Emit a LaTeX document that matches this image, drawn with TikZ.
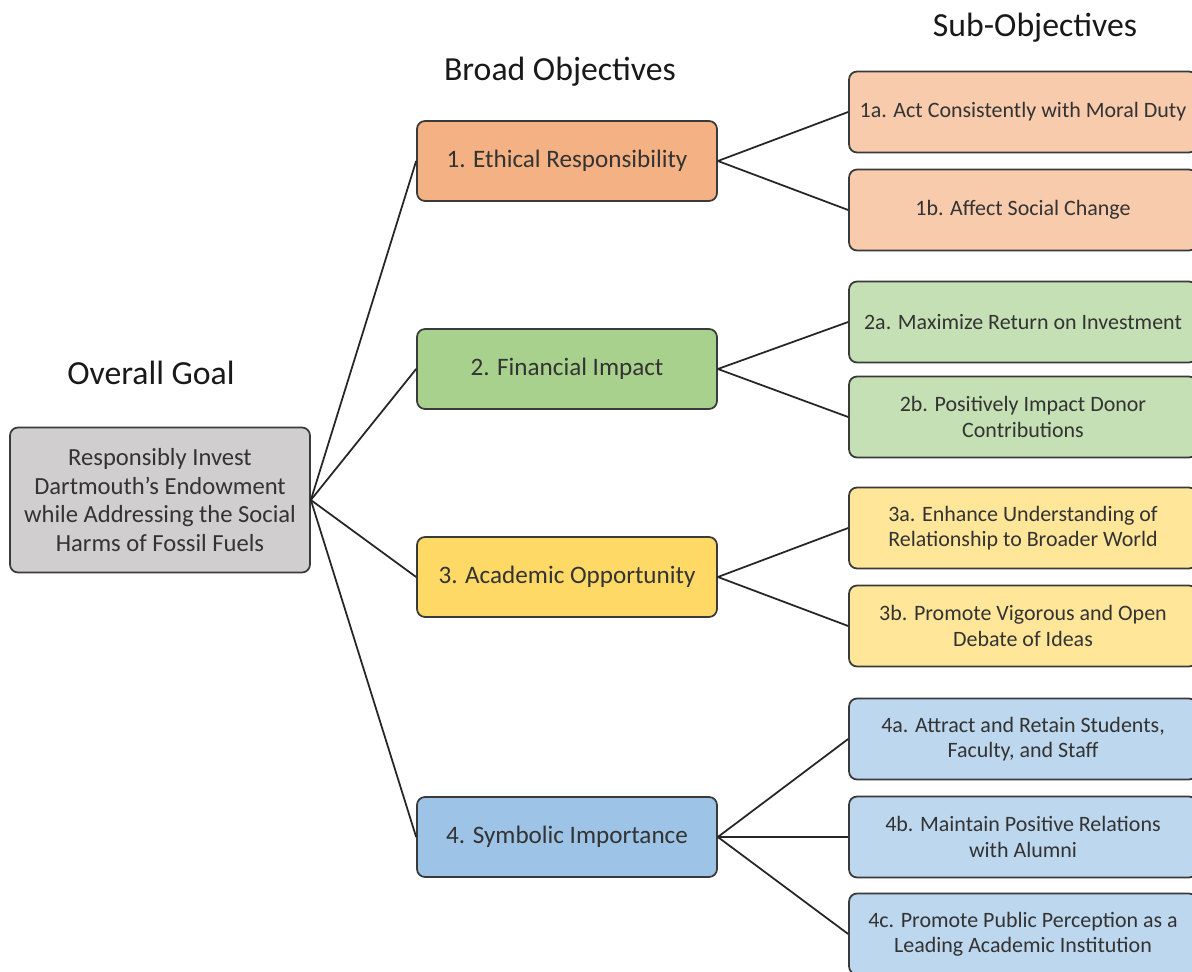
\documentclass[tikz,border=0pt]{standalone}
\usepackage{fontspec}
\setmainfont{Carlito}
\usetikzlibrary{positioning}

% Box colours
\definecolor{goalfill}{HTML}{D0CECE}
\definecolor{ethfill}{HTML}{F4B183}
\definecolor{ethsub}{HTML}{F8CBAD}
\definecolor{finfill}{HTML}{A9D18E}
\definecolor{finsub}{HTML}{C5E0B4}
\definecolor{acafill}{HTML}{FFD966}
\definecolor{acasub}{HTML}{FFE699}
\definecolor{symfill}{HTML}{9DC3E6}
\definecolor{symsub}{HTML}{BDD7EE}
\definecolor{boxline}{HTML}{3A3A3A}
\definecolor{boxtext}{HTML}{333333}

\tikzset{
    box/.style={draw=boxline, line width=1pt, rounded corners=0.16cm, align=center,
        text=boxtext, inner sep=2pt},
    goalbox/.style={box, fill=goalfill, minimum width=6cm, minimum height=2.9cm,
        font=\fontsize{14}{16.2}\selectfont},
    broadbox/.style={box, minimum width=6cm, minimum height=1.6cm,
        font=\fontsize{14.3}{16.5}\selectfont},
    subbox/.style={box, minimum width=6.96cm, minimum height=1.62cm,
        font=\fontsize{12.5}{14.3}\selectfont},
    head/.style={font=\fontsize{19.2}{22}\selectfont, text=black!90},
    link/.style={line width=1pt, draw=black!85}
}

\begin{document}
\begin{tikzpicture}[x=0.02cm, y=-0.02cm]
    \useasboundingbox (0,0) rectangle (1192,972);
    \fill[white] (0,0) rectangle (1192,972);

    % Column headings
    \node[head] (hgoal) at (151,373) {Overall Goal};
    \node[head] (hbroad) at (560,72) {Broad Objectives};
    \node[head] (hsub) at (1035,28) {Sub-Objectives};

    % Overall goal
    \node[goalbox] (goal) at (160,500) {Responsibly Invest\\Dartmouth's Endowment\\while Addressing the Social\\Harms of Fossil Fuels};

    % Broad objectives
    \node[broadbox, fill=ethfill] (eth) at (567,161) {1. Ethical Responsibility};
    \node[broadbox, fill=finfill] (fin) at (567,369) {2. Financial Impact};
    \node[broadbox, fill=acafill] (aca) at (567,577) {3. Academic Opportunity};
    \node[broadbox, fill=symfill] (sym) at (567,837) {4. Symbolic Importance};

    % Sub-objectives
    \node[subbox, fill=ethsub] (eth1a) at (1023,112) {1a. Act Consistently with Moral Duty};
    \node[subbox, fill=ethsub] (eth1b) at (1023,210) {1b. Affect Social Change};
    \node[subbox, fill=finsub] (fin2a) at (1023,322) {2a. Maximize Return on Investment};
    \node[subbox, fill=finsub] (fin2b) at (1023,417) {2b. Positively Impact Donor\\Contributions};
    \node[subbox, fill=acasub] (aca3a) at (1023,528) {3a. Enhance Understanding of\\Relationship to Broader World};
    \node[subbox, fill=acasub] (aca3b) at (1023,626) {3b. Promote Vigorous and Open\\Debate of Ideas};
    \node[subbox, fill=symsub] (sym4a) at (1023,739) {4a. Attract and Retain Students,\\Faculty, and Staff};
    \node[subbox, fill=symsub] (sym4b) at (1023,837) {4b. Maintain Positive Relations\\with Alumni};
    \node[subbox, fill=symsub] (sym4c) at (1023,934) {4c. Promote Public Perception as a\\Leading Academic Institution};

    % Links
    \foreach \b in {eth,fin,aca,sym}
    {
        \draw[link] (goal.east) -- (\b.west);
    }
    \foreach \b/\s in {eth/eth1a,eth/eth1b,fin/fin2a,fin/fin2b,aca/aca3a,aca/aca3b,sym/sym4a,sym/sym4b,sym/sym4c}
    {
        \draw[link] (\b.east) -- (\s.west);
    }
\end{tikzpicture}
\end{document}
